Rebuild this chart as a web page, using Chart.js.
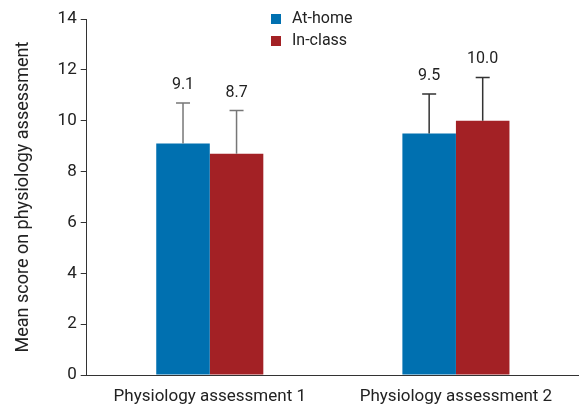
<!DOCTYPE html>
<html><head><meta charset="utf-8">
<script src="https://cdn.jsdelivr.net/npm/chart.js@4"></script>
<style>html,body{margin:0;padding:0;background:#fff}canvas{display:block}</style>
</head><body>
<canvas id="c" width="579" height="410"></canvas>
<script>
const categories = ["Physiology assessment 1", "Physiology assessment 2"];
const seriesNames = ["At-home", "In-class"];
const atHome = [9.1, 9.5];
const inClass = [8.7, 10.0];
const atHomeSD = [1.6, 1.55];
const inClassSD = [1.7, 1.7];
const valueLabels = [["9.1", "9.5"], ["8.7", "10.0"]];
const yTicks = [0, 2, 4, 6, 8, 10, 12, 14];
const colors = ["#0070b0", "#a32125"];
const errColors = ["#777", "#333"];
const FONT = "Roboto";

const errorPlugin = {
  id: 'err',
  afterDatasetsDraw(chart) {
    const ctx = chart.ctx, y = chart.scales.y;
    const sds = [atHomeSD, inClassSD];
    chart.data.datasets.forEach((ds, i) => {
      chart.getDatasetMeta(i).data.forEach((bar, j) => {
        const v = ds.data[j], top = y.getPixelForValue(v + sds[i][j]);
        const base = y.getPixelForValue(v);
        ctx.save();
        ctx.strokeStyle = errColors[j]; ctx.lineWidth = 1.5;
        ctx.beginPath();
        ctx.moveTo(bar.x, base); ctx.lineTo(bar.x, top);
        ctx.moveTo(bar.x - 7, top); ctx.lineTo(bar.x + 7, top);
        ctx.stroke();
        ctx.fillStyle = '#222'; ctx.font = '16px ' + FONT;
        ctx.textAlign = 'center'; ctx.textBaseline = 'bottom';
        ctx.fillText(valueLabels[i][j], bar.x, top - 10);
        ctx.restore();
      });
    });
    // legend
    ctx.save();
    ctx.font = '16px ' + FONT; ctx.textBaseline = 'middle'; ctx.textAlign = 'left';
    seriesNames.forEach((n, i) => {
      const yy = 19 + i * 22;
      ctx.fillStyle = colors[i];
      ctx.fillRect(271, yy - 5, 10, 10);
      ctx.fillStyle = '#222';
      ctx.fillText(n, 292, yy);
    });
    ctx.restore();
  }
};

new Chart(document.getElementById('c'), {
  type: 'bar',
  data: {
    labels: categories,
    datasets: [
      { label: seriesNames[0], data: atHome, backgroundColor: colors[0] },
      { label: seriesNames[1], data: inClass, backgroundColor: colors[1] }
    ]
  },
  options: {
    responsive: false, animation: false,
    categoryPercentage: 0.435, barPercentage: 1.0,
    layout: { padding: { top: 19, right: 0, bottom: 0, left: 9 } },
    plugins: { legend: { display: false }, tooltip: { enabled: false } },
    scales: {
      x: {
        afterFit(s) { s.height = 35; },
        grid: { display: true, drawOnChartArea: false, drawTicks: false },
        border: { display: true, color: '#333', width: 1 },
        ticks: { color: '#222', font: { family: FONT, size: 17 }, padding: 12 }
      },
      y: {
        min: 0, max: 14,
        afterBuildTicks(s) { s.ticks = yTicks.map(v => ({ value: v })); },
        grid: { display: true, drawOnChartArea: false, drawTicks: true, tickLength: 6, color: '#333' },
        border: { display: true, color: '#333', width: 1 },
        ticks: { color: '#222', font: { family: FONT, size: 17 }, padding: 4 },
        title: { display: true, text: 'Mean score on physiology assessment', color: '#222', font: { family: FONT, size: 18 }, padding: { bottom: 19 } }
      }
    }
  },
  plugins: [errorPlugin]
});
</script>
</body></html>
